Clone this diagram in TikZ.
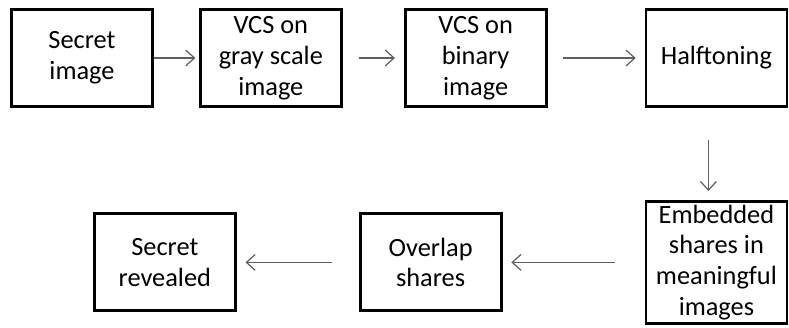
\documentclass[tikz,border=0pt]{standalone}
\usepackage{fontspec}
\setmainfont{Carlito}
\usepackage{xcolor}
\definecolor{arrgray}{RGB}{95,95,95}
\usepackage{tikz}
\usetikzlibrary{arrows.meta,positioning}

\begin{document}
\begin{tikzpicture}[
    stage/.style={rectangle, draw=black, line width=1.6pt,
                  minimum width=2.82cm, minimum height=1.94cm,
                  align=center, inner sep=2pt,
                  font=\fontsize{15}{17.5}\selectfont},
    arr/.style={-{Straight Barb[length=5pt,width=9pt]}, line width=0.7pt,
                arrgray, shorten >=5pt},
  ]
    \useasboundingbox (0,0) rectangle (15.78,-6.54);

    \node[stage] (secret) at (1.64,-1.16) {Secret\\image};
    \node[stage, right=0.9cm of secret] (gray) {VCS on\\gray scale\\image};
    \node[stage, right=1.22cm of gray]  (bin)  {VCS on\\binary\\image};
    \node[stage, right=1.94cm of bin]   (half) {Halftoning};
    \node[stage, below=1.84cm of half, minimum height=2.44cm] (emb)
          {Embedded\\shares in\\meaningful\\images};
    \node[stage, left=2.84cm of emb]    (over) {Overlap\\shares};
    \node[stage, left=2.44cm of over]   (rev)  {Secret\\revealed};

    \draw[arr, shorten >=2pt] (secret)--(gray);
    \draw[arr, shorten <=9pt] (gray)--(bin);
    \draw[arr, shorten <=9pt] (bin)--(half);
    \draw[arr, shorten <=18pt] ([xshift=-0.16cm]half.south)--([xshift=-0.16cm]emb.north);
    \draw[arr, shorten <=17pt] (emb)--(over);
    \draw[arr, shorten <=15pt] (over)--(rev);
  \end{tikzpicture}
\end{document}
